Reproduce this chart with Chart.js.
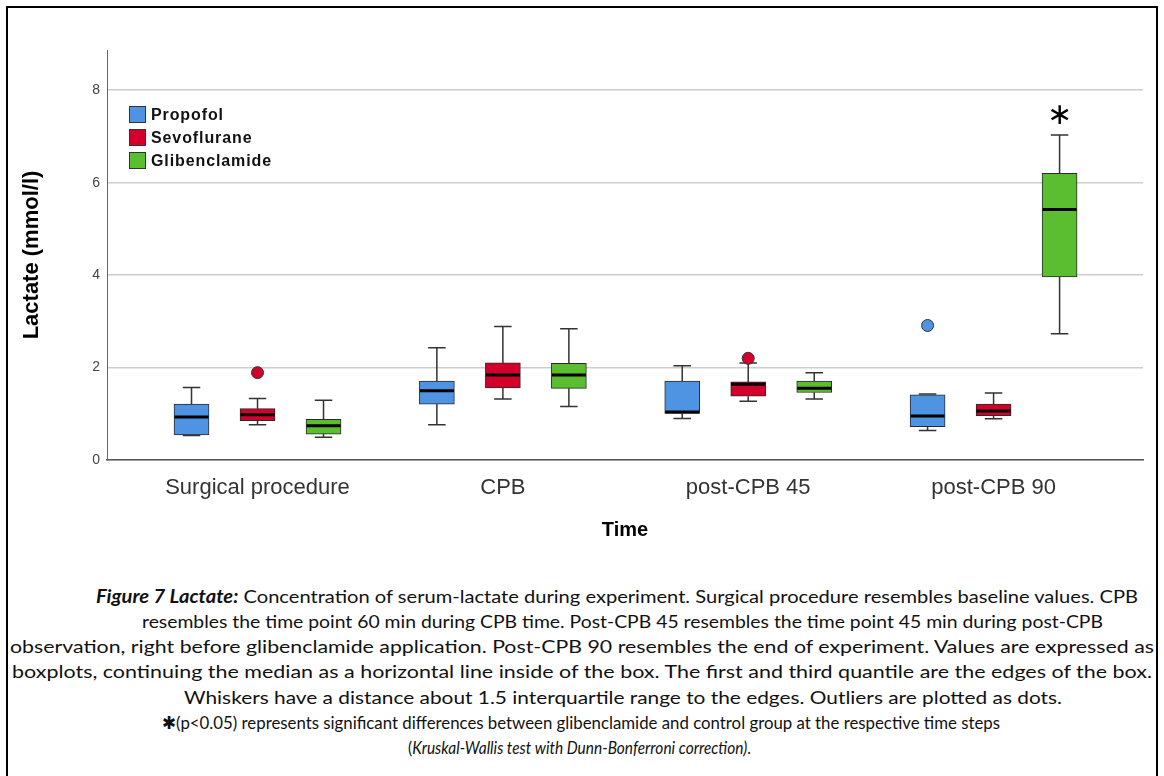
<!DOCTYPE html>
<html><head><meta charset="utf-8">
<script src="https://cdn.jsdelivr.net/npm/chart.js@4"></script>
<style>
html,body{margin:0;padding:0;background:#fff;}
#wrap{position:relative;width:1164px;height:776px;overflow:hidden;background:#fff;}
#frame{position:absolute;left:6px;top:6px;width:1148px;height:800px;border:2px solid #000;pointer-events:none;}
#chart{position:absolute;left:0;top:0;}
.legend{position:absolute;left:129px;top:103px;font:bold 16px "Liberation Sans",Arial,sans-serif;letter-spacing:0.9px;color:#111;}
.legend .row{height:23px;display:flex;align-items:center;}
.legend .sw{display:inline-block;width:15px;height:15px;border:1px solid #333;margin-right:5px;}
.cap{position:absolute;white-space:nowrap;font-family:Lato,"Open Sans",sans-serif;font-size:18px;line-height:22px;color:#111;transform-origin:0 50%;}
.ast{font-family:"DejaVu Sans",sans-serif;font-size:18px;}
</style></head>
<body>
<div id="wrap">
  <canvas id="chart" width="1164" height="570"></canvas>
  <div class="legend" id="legend"></div>
  <div class="cap" data-left="96" data-w="1042" data-y="596"><b><i>Figure 7 Lactate:</i></b> Concentration of serum-lactate during experiment. Surgical procedure resembles baseline values. CPB</div>
  <div class="cap" data-left="142" data-w="961" data-y="621">resembles the time point 60 min during CPB time. Post-CPB 45 resembles the time point 45 min during post-CPB</div>
  <div class="cap" data-left="10" data-w="1144" data-y="646">observation, right before glibenclamide application. Post-CPB 90 resembles the end of experiment. Values are expressed as</div>
  <div class="cap" data-left="12" data-w="1140" data-y="671">boxplots, continuing the median as a horizontal line inside of the box. The first and third quantile are the edges of the box.</div>
  <div class="cap" data-left="184" data-w="878" data-y="697">Whiskers have a distance about 1.5 interquartile range to the edges. Outliers are plotted as dots.</div>
  <div class="cap" data-left="162" data-w="838" data-y="722"><span class="ast">✱</span>(p&lt;0.05) represents significant differences between glibenclamide and control group at the respective time steps</div>
  <div class="cap" data-left="408" data-w="343" data-y="747">(<i>Kruskal-Wallis test with Dunn-Bonferroni correction)</i>.</div>
  <div id="frame"></div>
</div>
<script>
// ---- data ----
const categories = ['Surgical procedure', 'CPB', 'post-CPB 45', 'post-CPB 90'];
const seriesNames = ['Propofol', 'Sevoflurane', 'Glibenclamide'];
const yTickValues = [0, 2, 4, 6, 8];

const propofolMin      = [0.53, 0.76, 0.90, 0.64];
const propofolQ1       = [0.54, 1.21, 1.01, 0.72];
const propofolMedian   = [0.93, 1.50, 1.04, 0.95];
const propofolQ3       = [1.21, 1.71, 1.71, 1.41];
const propofolMax      = [1.57, 2.43, 2.04, 1.43];
const propofolOutliers = [[], [], [], [2.91]];

const sevoMin      = [0.76, 1.32, 1.27, 0.89];
const sevoQ1       = [0.85, 1.56, 1.38, 0.96];
const sevoMedian   = [0.98, 1.84, 1.64, 1.06];
const sevoQ3       = [1.11, 2.10, 1.69, 1.21];
const sevoMax      = [1.33, 2.89, 2.10, 1.45];
const sevoOutliers = [[1.89], [], [2.20], []];

const glibMin      = [0.49, 1.16, 1.32, 2.73];
const glibQ1       = [0.56, 1.55, 1.46, 3.96];
const glibMedian   = [0.74, 1.84, 1.55, 5.42];
const glibQ3       = [0.88, 2.09, 1.71, 6.20];
const glibMax      = [1.29, 2.84, 1.89, 7.03];
const glibOutliers = [[], [], [], []];
const glibSignificance = ['', '', '', '*'];

// ---- styling ----
const seriesColors = ['#4F94E3', '#D4002C', '#5BBE31'];
const seriesOffsets = [-0.269, 0, 0.269];
const boxWidth = 35;

const series = [
  {min: propofolMin, q1: propofolQ1, med: propofolMedian, q3: propofolQ3, max: propofolMax, out: propofolOutliers},
  {min: sevoMin, q1: sevoQ1, med: sevoMedian, q3: sevoQ3, max: sevoMax, out: sevoOutliers},
  {min: glibMin, q1: glibQ1, med: glibMedian, q3: glibQ3, max: glibMax, out: glibOutliers, sig: glibSignificance}
];

// legend (HTML)
const lg = document.getElementById('legend');
seriesNames.forEach((n, i) => {
  const r = document.createElement('div'); r.className = 'row';
  const sw = document.createElement('span'); sw.className = 'sw'; sw.style.background = seriesColors[i];
  r.appendChild(sw); r.appendChild(document.createTextNode(n)); lg.appendChild(r);
});

// caption fitting
document.querySelectorAll('.cap').forEach(el => {
  el.style.left = el.dataset.left + 'px';
  el.style.top = (el.dataset.y - 11) + 'px';
  const w = el.getBoundingClientRect().width;
  el.style.transform = 'scaleX(' + (el.dataset.w / w) + ')';
});

const datasets = [];
series.forEach((s, si) => {
  datasets.push({
    type: 'bar', label: seriesNames[si],
    data: categories.map((c, i) => ({x: i + seriesOffsets[si], y: [s.q1[i], s.q3[i]]})),
    backgroundColor: seriesColors[si], borderColor: '#2a2a2a', borderWidth: 1,
    borderSkipped: false, barThickness: boxWidth, grouped: false, order: 2
  });
});
series.forEach((s, si) => {
  const pts = [];
  s.out.forEach((arr, i) => arr.forEach(v => pts.push({x: i + seriesOffsets[si], y: v})));
  datasets.push({
    type: 'scatter', label: seriesNames[si] + ' outliers', data: pts,
    pointRadius: 6, pointHoverRadius: 6, backgroundColor: seriesColors[si],
    borderColor: '#333', borderWidth: 1, order: 1
  });
});

const boxPlugin = {
  id: 'boxWhiskers',
  beforeDatasetsDraw(chart) {
    const {ctx, scales: {x, y}} = chart;
    ctx.save();
    ctx.strokeStyle = '#333'; ctx.lineWidth = 1.5;
    series.forEach((s, si) => {
      categories.forEach((c, i) => {
        const px = x.getPixelForValue(i + seriesOffsets[si]);
        const cap = boxWidth / 4;
        const yMax = y.getPixelForValue(s.max[i]), yQ3 = y.getPixelForValue(s.q3[i]);
        const yMin = y.getPixelForValue(s.min[i]), yQ1 = y.getPixelForValue(s.q1[i]);
        ctx.beginPath();
        ctx.moveTo(px, yQ3); ctx.lineTo(px, yMax);
        ctx.moveTo(px - cap, yMax); ctx.lineTo(px + cap, yMax);
        ctx.moveTo(px, yQ1); ctx.lineTo(px, yMin);
        ctx.moveTo(px - cap, yMin); ctx.lineTo(px + cap, yMin);
        ctx.stroke();
      });
    });
    ctx.restore();
  },
  afterDatasetsDraw(chart) {
    const {ctx, scales: {x, y}} = chart;
    ctx.save();
    series.forEach((s, si) => {
      categories.forEach((c, i) => {
        const px = x.getPixelForValue(i + seriesOffsets[si]);
        const pm = y.getPixelForValue(s.med[i]);
        ctx.strokeStyle = '#000'; ctx.lineWidth = 3;
        ctx.beginPath();
        ctx.moveTo(px - boxWidth / 2 + 0.5, pm); ctx.lineTo(px + boxWidth / 2 - 0.5, pm);
        ctx.stroke();
        if (s.sig && s.sig[i]) {
          ctx.fillStyle = '#000';
          ctx.font = '30px "DejaVu Sans"';
          ctx.textAlign = 'center'; ctx.textBaseline = 'middle';
          ctx.fillText('\u2217', px, y.getPixelForValue(s.max[i]) - 19);
        }
      });
    });
    ctx.restore();
  }
};

new Chart(document.getElementById('chart'), {
  type: 'bar',
  data: {datasets},
  plugins: [boxPlugin],
  options: {
    responsive: false, animation: false, devicePixelRatio: 1,
    layout: {padding: {top: 50, right: 21, left: 0, bottom: 0}},
    plugins: {legend: {display: false}, tooltip: {enabled: false}},
    scales: {
      x: {
        type: 'linear', min: -0.6135, max: 3.609, offset: false,
        afterFit(s) { s.height = 110; },
        afterBuildTicks(s) { s.ticks = categories.map((c, i) => ({value: i})); },
        ticks: {callback: v => categories[v] ?? '', autoSkip: false, maxRotation: 0, minRotation: 0,
                padding: 15, color: '#333', font: {family: 'Liberation Sans', size: 22}},
        grid: {display: false, drawTicks: false},
        border: {display: true, color: '#555', width: 1.5},
        title: {display: true, text: 'Time', color: '#000',
                font: {family: 'Liberation Sans', size: 20, weight: 'bold'}, padding: {top: 0, bottom: 28}}
      },
      y: {
        type: 'linear', min: 0, max: 8.87,
        afterFit(s) { s.width = 107; },
        afterBuildTicks(s) { s.ticks = yTickValues.map(v => ({value: v})); },
        ticks: {padding: 7, color: '#444', font: {family: 'Liberation Sans', size: 14}},
        grid: {color: '#cdcdcd', lineWidth: 1.5, drawTicks: false},
        border: {display: true, color: '#666', width: 1},
        title: {display: true, text: 'Lactate (mmol/l)', color: '#000',
                font: {family: 'Liberation Sans', size: 22, weight: 'bold'}, padding: {top: 19, bottom: 0}}
      }
    }
  }
});
</script>
</body></html>
